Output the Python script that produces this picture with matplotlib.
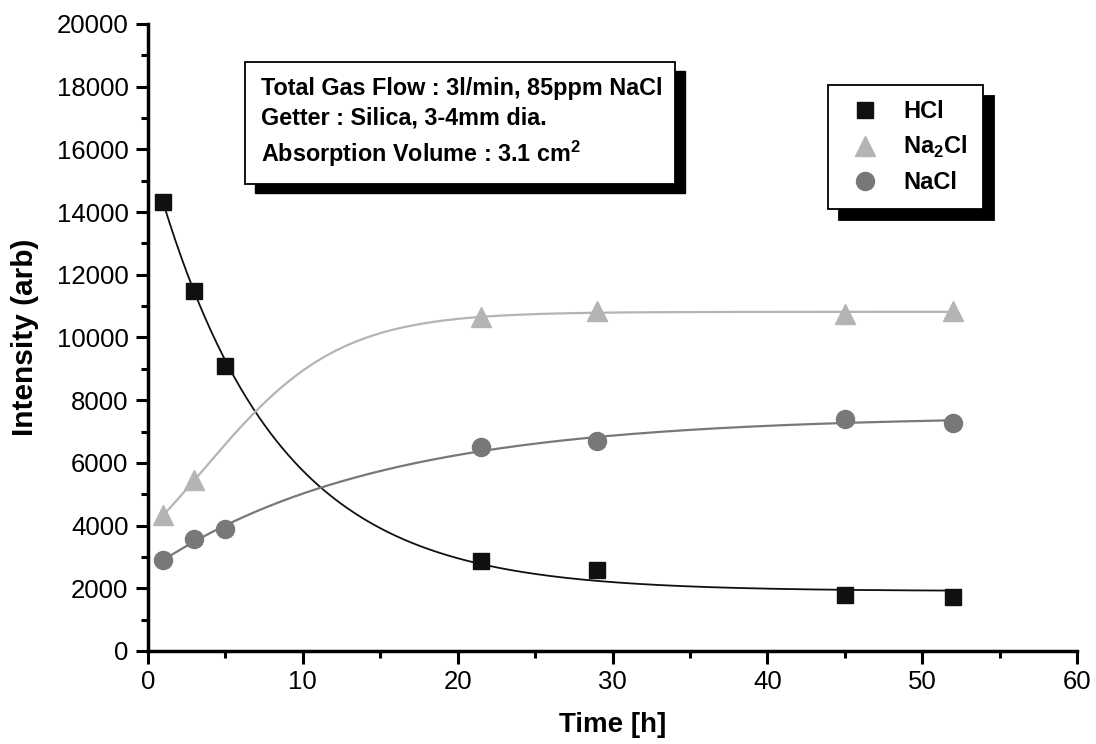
import numpy as np
import matplotlib
matplotlib.use('Agg')
import matplotlib.pyplot as plt
from matplotlib.ticker import MultipleLocator
from matplotlib.patches import Rectangle

plt.rcParams['font.family'] = ['Liberation Sans', 'DejaVu Sans']
plt.rcParams['mathtext.fontset'] = 'custom'
plt.rcParams['mathtext.rm'] = 'Liberation Sans'
plt.rcParams['mathtext.bf'] = 'Liberation Sans:bold'

t_hcl = np.array([1, 3, 5, 21.5, 29, 45, 52])
hcl = np.array([14330, 11480, 9090, 2870, 2585, 1775, 1735])

t_na2cl = np.array([1, 3, 21.5, 29, 45, 52])
na2cl = np.array([4340, 5455, 10645, 10855, 10750, 10835])

t_nacl = np.array([1, 3, 5, 21.5, 29, 45, 52])
nacl = np.array([2905, 3575, 3890, 6500, 6690, 7390, 7285])

info_lines = ['Total Gas Flow : 3l/min, 85ppm NaCl',
              'Getter : Silica, 3-4mm dia.',
              r'Absorption Volume : 3.1 cm$^{\mathbf{2}}$']


def lin2(cols, y):
    # batched least squares for y = c0*cols[...,0] + c1*cols[...,1]
    GtG = np.einsum('kni,knj->kij', cols, cols)
    Gty = np.einsum('kni,n->ki', cols, y)
    c = np.linalg.solve(GtG, Gty[..., None])[..., 0]
    res = ((np.einsum('kni,ki->kn', cols, c) - y) ** 2).sum(axis=1)
    return c, res


def fit_exp(x, y):
    # y = y0 + A*exp(-x/t)
    taus = np.linspace(0.5, 60, 3000)
    e = np.exp(-x[None, :] / taus[:, None])
    cols = np.stack([np.ones_like(e), e], axis=-1)
    c, res = lin2(cols, y)
    k = np.argmin(res)
    y0, A, t = c[k, 0], c[k, 1], taus[k]
    return lambda xx: y0 + A * np.exp(-xx / t)


def fit_boltzmann(x, y):
    # y = A2 + (A1-A2)/(1+exp((x-x0)/dx))
    X0, DX = np.meshgrid(np.linspace(-5, 15, 201), np.linspace(1, 10, 181))
    X0, DX = X0.ravel(), DX.ravel()
    g = 1 / (1 + np.exp((x[None, :] - X0[:, None]) / DX[:, None]))
    cols = np.stack([g, 1 - g], axis=-1)
    c, res = lin2(cols, y)
    res[c[:, 0] < 0] = np.inf
    k = np.argmin(res)
    A1, A2, x0, dx = c[k, 0], c[k, 1], X0[k], DX[k]
    return lambda xx: A2 + (A1 - A2) / (1 + np.exp((xx - x0) / dx))


fig = plt.figure(figsize=(10.96, 7.44), dpi=100)
ax = fig.add_axes([148 / 1096, 93 / 744, 929 / 1096, 627 / 744])

c_hcl, c_na2cl, c_nacl = '#101010', '#b4b4b4', '#787878'

xs = np.linspace(1, 52, 400)
ax.plot(xs, fit_exp(t_hcl, hcl)(xs), color=c_hcl, lw=1.3, zorder=2)
ax.plot(xs, fit_boltzmann(t_na2cl, na2cl)(xs), color=c_na2cl, lw=1.6, zorder=2)
ax.plot(xs, fit_exp(t_nacl, nacl)(xs), color=c_nacl, lw=1.6, zorder=2)

ax.plot(t_hcl, hcl, 's', ms=12, color=c_hcl, mec=c_hcl, label='HCl', zorder=3)
ax.plot(t_na2cl, na2cl, '^', ms=15, color=c_na2cl, mec=c_na2cl,
        label=r'Na$_{\mathbf{2}}$Cl', zorder=3)
ax.plot(t_nacl, nacl, 'o', ms=13, color=c_nacl, mec=c_nacl, label='NaCl', zorder=3)

ax.set_xlim(0, 60)
ax.set_ylim(0, 20000)
ax.xaxis.set_major_locator(MultipleLocator(10))
ax.xaxis.set_minor_locator(MultipleLocator(5))
ax.yaxis.set_major_locator(MultipleLocator(2000))
ax.yaxis.set_minor_locator(MultipleLocator(1000))
for s in ['top', 'right']:
    ax.spines[s].set_visible(False)
for s in ['left', 'bottom']:
    ax.spines[s].set_linewidth(2.5)
ax.tick_params(which='major', length=9, width=2.2, labelsize=18.5, pad=5)
ax.tick_params(which='minor', length=5, width=2.2)

ax.set_xlabel('Time [h]', fontsize=20, fontweight='bold', labelpad=13)
ax.set_ylabel('Intensity (arb)', fontsize=21.5, fontweight='bold', labelpad=13)

# info box with black drop shadow
bx0, bx1 = (245 - 148) / 929, (675 - 148) / 929
by0, by1 = (651 - 184) / 627, (651 - 62) / 627
dx, dy = 10 / 929, 9 / 627
ax.add_patch(Rectangle((bx0 + dx, by0 - dy), bx1 - bx0, by1 - by0,
                       transform=ax.transAxes, facecolor='black',
                       edgecolor='black', clip_on=False, zorder=4))
ax.add_patch(Rectangle((bx0, by0), bx1 - bx0, by1 - by0,
                       transform=ax.transAxes, facecolor='white',
                       edgecolor='black', lw=1.3, clip_on=False, zorder=5))
for line, yp in zip(info_lines, [95, 125, 162]):
    ax.text((261 - 148) / 929, (651 - yp) / 627, line, transform=ax.transAxes,
            fontsize=16.8, fontweight='bold', va='baseline', ha='left', zorder=6)

leg = ax.legend(loc='upper left', bbox_to_anchor=((828 - 148) / 929, (651 - 85) / 627),
                borderaxespad=0, frameon=True, fancybox=False, borderpad=0.65,
                handlelength=1.8, handletextpad=0.73, labelspacing=0.45,
                prop={'size': 17, 'weight': 'bold'},
                shadow={'ox': 8, 'oy': -8, 'color': 'black', 'alpha': 1})
leg.get_frame().set_edgecolor('black')
leg.get_frame().set_linewidth(1.3)
leg.set_zorder(7)

fig.savefig('out.png', dpi=100, facecolor='w')
